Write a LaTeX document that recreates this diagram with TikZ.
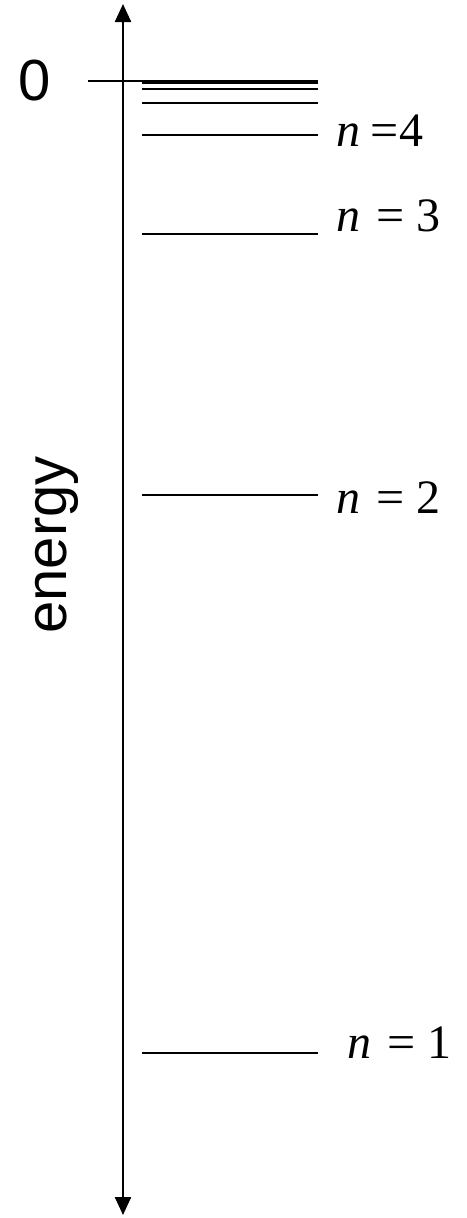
\documentclass[tikz,border=0pt]{standalone}
\usepackage{fontspec}
\setmainfont{Liberation Serif}
\newfontfamily\axfont{Liberation Sans}
\usetikzlibrary{arrows.meta}
\newcommand{\eqsign}{\scalebox{1.04}[1]{=}}
\tikzset{
  level/.style={line width=1.3pt},
  lab/.style={anchor=base west, inner sep=0pt, font=\fontsize{48}{48}\selectfont},
  axlab/.style={inner sep=0pt, font=\axfont\fontsize{58}{58}\selectfont},
  axis/.style={line width=2.4pt, {Triangle[length=18pt,width=16pt]}-{Triangle[length=18pt,width=16pt]}}
}
\begin{document}
\begin{tikzpicture}[x=1pt,y=-1pt]
\useasboundingbox (0,0) rectangle (466,1218);
\coordinate (top) at (123,4);
\coordinate (bot) at (123,1215);
\draw[axis] (bot) -- (top);
\coordinate (z0) at (88,81);
\coordinate (z1) at (318,81);
\draw[level] (z0) -- (z1);
\foreach \y/\nm in {83/a,89/b,103/c,135/d,234/e,495/f,1053/g} {
  \coordinate (L\nm) at (142,\y);
  \coordinate (R\nm) at (318,\y);
  \draw[level] (L\nm) -- (R\nm);
}
\node[axlab] (zero) at (35,81) {0};
\node[axlab, rotate=90] (en) at (57,545) {energy};
\node[lab] (n4) at (336,146) {\textit{n}\hspace{10pt}\eqsign\hspace{1pt}4};
\node[lab] (n3) at (336,231) {\textit{n}\hspace{16pt}\eqsign\hspace{12pt}3};
\node[lab] (n2) at (336,513) {\textit{n}\hspace{16pt}\eqsign\hspace{12pt}2};
\node[lab] (n1) at (347,1058) {\textit{n}\hspace{16pt}\eqsign\hspace{12pt}1};
\end{tikzpicture}
\end{document}
